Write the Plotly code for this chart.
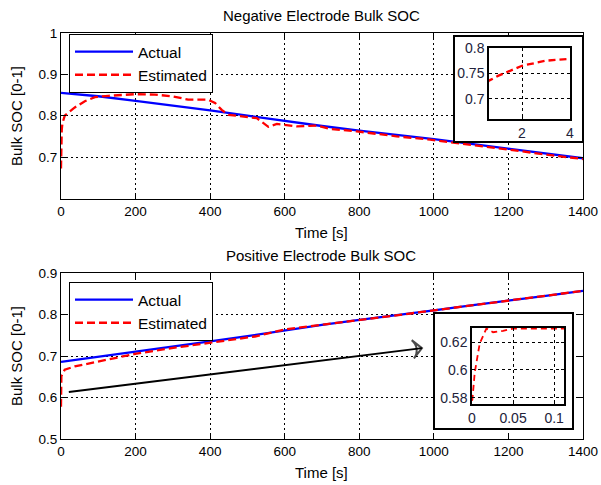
import plotly.graph_objects as go

# ---------------- data ----------------
t_act = [0, 100, 200, 300, 400, 500, 600, 700, 800, 900, 1000, 1100, 1200, 1300, 1400]
neg_actual = [0.855, 0.847, 0.836, 0.825, 0.813, 0.800, 0.787, 0.775, 0.764, 0.754,
              0.743, 0.732, 0.720, 0.708, 0.697]
pos_actual = [0.686, 0.698, 0.711, 0.723, 0.735, 0.748, 0.762, 0.775, 0.787, 0.798,
              0.810, 0.822, 0.833, 0.845, 0.857]

t_neg_est = [0, 0.6, 1, 2, 3, 4, 10, 37, 64, 91, 127, 198, 252, 297, 341, 394, 413, 431,
             449, 485, 525, 543, 556, 579, 632, 686, 722, 793, 900, 990, 1100, 1200,
             1300, 1400]
neg_est = [0.672, 0.735, 0.745, 0.765, 0.775, 0.782, 0.800, 0.820, 0.835, 0.845, 0.848,
           0.852, 0.851, 0.847, 0.839, 0.839, 0.831, 0.814, 0.802, 0.798, 0.794, 0.782,
           0.773, 0.780, 0.774, 0.776, 0.768, 0.762, 0.750, 0.742, 0.730, 0.718, 0.706,
           0.695]

t_pos_est = [0, 0.0005, 0.0033, 0.0094, 0.0175, 0.0256, 0.0378, 0.05, 0.08, 0.112, 1, 10,
             37, 91, 145, 198, 297, 395, 520, 600, 700, 800, 900, 1000, 1100, 1200, 1300,
             1400]
pos_est = [0.578, 0.579, 0.598, 0.619, 0.6296, 0.627, 0.628, 0.6296, 0.6296, 0.6296,
           0.651, 0.667, 0.675, 0.685, 0.695, 0.705, 0.719, 0.731, 0.747, 0.764, 0.775,
           0.787, 0.798, 0.810, 0.822, 0.833, 0.845, 0.857]

arrow_t = [21, 968]
arrow_v = [0.613, 0.719]

neg_yticks = [0.7, 0.8, 0.9, 1.0]
neg_yticktext = ["0.7", "0.8", "0.9", "1"]
pos_yticks = [0.5, 0.6, 0.7, 0.8, 0.9]
x_ticks = [0, 200, 400, 600, 800, 1000, 1200, 1400]
ins1_xticks = [2, 4]
ins1_yticks = [0.7, 0.75, 0.8]
ins2_xticks = [0, 0.05, 0.1]
ins2_yticks = [0.58, 0.6, 0.62]

# ---------------- figure ----------------
W, H = 601, 485
FONT = "Liberation Sans, Arial, sans-serif"
BLUE = "#0000ff"
RED = "#ff0000"


def fx(p):
    return p / W


def fy(p):
    return 1 - p / H


def px_x(a, b):
    return [fx(a), fx(b)]


def px_y(top, bottom):
    return [fy(bottom), fy(top)]


fig = go.Figure()

# main plots
fig.add_trace(go.Scatter(x=t_act, y=neg_actual, mode="lines", name="Actual",
                         line=dict(color=BLUE, width=2.3), xaxis="x", yaxis="y",
                         legend="legend"))
fig.add_trace(go.Scatter(x=t_neg_est, y=neg_est, mode="lines", name="Estimated",
                         line=dict(color=RED, width=2.3, dash="8px,4px"), xaxis="x",
                         yaxis="y", legend="legend"))
fig.add_trace(go.Scatter(x=t_act, y=pos_actual, mode="lines", name="Actual",
                         line=dict(color=BLUE, width=2.3), xaxis="x2", yaxis="y2",
                         legend="legend2"))
fig.add_trace(go.Scatter(x=t_pos_est, y=pos_est, mode="lines", name="Estimated",
                         line=dict(color=RED, width=2.3, dash="8px,4px"), xaxis="x2",
                         yaxis="y2", legend="legend2"))
# arrow
fig.add_trace(go.Scatter(x=arrow_t, y=arrow_v, mode="lines+markers",
                         line=dict(color="black", width=2),
                         marker=dict(symbol=["circle", "arrow-wide-open"], size=[0, 13],
                                     angleref="previous", color="black",
                                     line=dict(color="black", width=2)),
                         xaxis="x2", yaxis="y2", showlegend=False, hoverinfo="skip"))

# inset boxes (white panels) + inset plots
box_x = [0, 1, 1, 0, 0]
box_y = [0, 0, 1, 1, 0]
fig.add_trace(go.Scatter(x=box_x, y=box_y, fill="toself", fillcolor="white", mode="lines",
                         line=dict(width=0), xaxis="x3", yaxis="y3", showlegend=False,
                         hoverinfo="skip"))
fig.add_trace(go.Scatter(x=t_neg_est, y=neg_est, mode="lines",
                         line=dict(color=RED, width=2.3, dash="7px,4px"), xaxis="x4",
                         yaxis="y4", showlegend=False))
fig.add_trace(go.Scatter(x=box_x, y=box_y, fill="toself", fillcolor="white", mode="lines",
                         line=dict(width=0), xaxis="x5", yaxis="y5", showlegend=False,
                         hoverinfo="skip"))
fig.add_trace(go.Scatter(x=t_pos_est, y=pos_est, mode="lines",
                         line=dict(color=RED, width=1.8, dash="6px,4px"), xaxis="x6",
                         yaxis="y6", showlegend=False))

main_ax = dict(showline=True, linecolor="black", linewidth=1, mirror="ticks",
               ticks="inside", ticklen=5, tickcolor="black", showgrid=True,
               gridcolor="black", gridwidth=0.7, griddash="2px,3px", zeroline=False,
               automargin=False,
               tickfont=dict(family=FONT, size=13.5, color="black"))
ins_ax = dict(showline=True, linecolor="black", linewidth=1.5, mirror="ticks",
              ticks="inside", ticklen=3, tickcolor="black", showgrid=True,
              gridcolor="black", gridwidth=1, griddash="3px,3px", zeroline=False,
              automargin=False,
              tickfont=dict(family=FONT, size=14, color="#22223a"))
box_ax = dict(showline=True, linecolor="black", linewidth=2, mirror=True, ticks="",
              showgrid=False, zeroline=False, showticklabels=False, range=[0, 1],
              fixedrange=True, automargin=False)
leg = dict(xanchor="left", yanchor="top", bgcolor="white", bordercolor="black",
           borderwidth=1, font=dict(family=FONT, size=15.5, color="black"),
           itemwidth=58, tracegroupgap=0)

fig.update_layout(
    width=W, height=H, autosize=False,
    margin=dict(l=0, r=0, t=0, b=0, pad=0, autoexpand=False),
    paper_bgcolor="white", plot_bgcolor="white",
    font=dict(family=FONT, size=13, color="black"),
    xaxis=dict(main_ax, domain=px_x(61, 583), range=[0, 1400], tickvals=x_ticks,
               anchor="y"),
    yaxis=dict(main_ax, domain=px_y(33, 199), range=[0.5984, 1.0], tickvals=neg_yticks,
               ticktext=neg_yticktext, anchor="x"),
    xaxis2=dict(main_ax, domain=px_x(61, 583), range=[0, 1400], tickvals=x_ticks,
                anchor="y2"),
    yaxis2=dict(main_ax, domain=px_y(273, 439), range=[0.5, 0.9], tickvals=pos_yticks,
                anchor="x2"),
    xaxis3=dict(box_ax, domain=px_x(455, 582), anchor="y3"),
    yaxis3=dict(box_ax, domain=px_y(37, 141), anchor="x3"),
    xaxis4=dict(ins_ax, domain=px_x(489, 570), range=[0.625, 4], tickvals=ins1_xticks,
                anchor="y4"),
    yaxis4=dict(ins_ax, domain=px_y(48, 119), range=[0.66, 0.8], tickvals=ins1_yticks,
                anchor="x4"),
    xaxis5=dict(box_ax, domain=px_x(435, 572), anchor="y5"),
    yaxis5=dict(box_ax, domain=px_y(314, 428), anchor="x5"),
    xaxis6=dict(ins_ax, domain=px_x(472, 564), range=[0, 0.112], tickvals=ins2_xticks,
                ticktext=["0", "0.05", "0.1"], anchor="y6"),
    yaxis6=dict(ins_ax, domain=px_y(328, 404), range=[0.5757, 0.63],
                tickvals=ins2_yticks, ticktext=["0.58", "0.6", "0.62"], anchor="x6"),
    legend=dict(leg, x=fx(69), y=fy(34)),
    legend2=dict(leg, x=fx(69), y=fy(282)),
    showlegend=True,
)

ann = [
    dict(text="Negative Electrode Bulk SOC", x=fx(321), y=fy(15)),
    dict(text="Time [s]", x=fx(321), y=fy(232)),
    dict(text="Positive Electrode Bulk SOC", x=fx(321), y=fy(255)),
    dict(text="Time [s]", x=fx(321), y=fy(472)),
    dict(text="Bulk SOC [0-1]", x=fx(16), y=fy(116), textangle=-90),
    dict(text="Bulk SOC [0-1]", x=fx(16), y=fy(356), textangle=-90),
]
for a in ann:
    fig.add_annotation(xref="paper", yref="paper", showarrow=False, xanchor="center",
                       yanchor="middle", font=dict(family=FONT, size=15, color="black"),
                       **a)

# remove the browser's default page margin so the figure sits at the window origin
fig.write_html("out.html",
               config={"displayModeBar": False},
               post_script="document.body.style.margin='0';"
                           "document.body.style.overflow='hidden';")
